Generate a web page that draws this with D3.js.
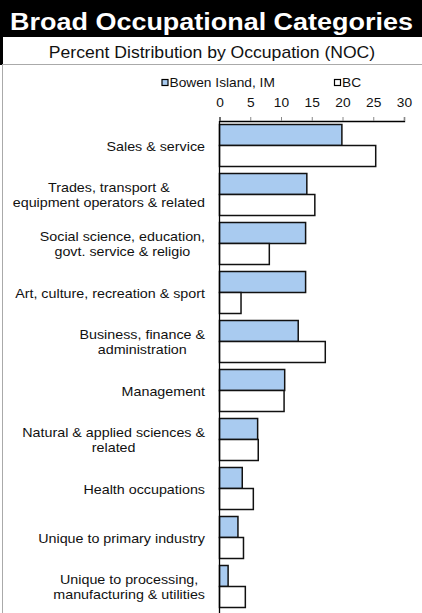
<!DOCTYPE html>
<html>
<head>
<meta charset="utf-8">
<script src="https://cdn.jsdelivr.net/npm/d3@7"></script>
<style>
  body { margin: 0; background: #fff; }
  svg { display: block; font-family: "Liberation Sans", Arial, sans-serif; }
  .ticks text { font-size: 12.5px; fill: #111; }
  .cat { font-size: 13px; fill: #111; }
</style>
</head>
<body>
<script>
var categories = [
  "Sales & service",
  "Trades, transport &\nequipment operators & related",
  "Social science, education,\ngovt. service & religio",
  "Art, culture, recreation & sport",
  "Business, finance &\nadministration",
  "Management",
  "Natural & applied sciences &\nrelated",
  "Health occupations",
  "Unique to primary industry",
  "Unique to processing,\nmanufacturing & utilities"
];
var bowen = [19.9, 14.2, 14.0, 14.0, 12.8, 10.6, 6.2, 3.7, 3.0, 1.4];
var bc = [25.4, 15.5, 8.1, 3.5, 17.2, 10.5, 6.3, 5.5, 3.9, 4.2];
var seriesNames = ["Bowen Island, IM", "BC"];
var seriesColors = ["#a9cbf0", "#ffffff"];
var xTicks = [0, 5, 10, 15, 20, 25, 30];

var width = 422, height = 613;
var sx = 1.1; // text in the original is a bit wider than normal
var svg = d3.select("body").append("svg")
  .attr("width", width)
  .attr("height", height);

// places a text stretched horizontally around its anchor point
function wideText(parent, x, y, anchor, str) {
  return parent.append("text")
    .attr("transform", "translate(" + x + "," + y + ") scale(" + sx + ",1)")
    .attr("text-anchor", anchor)
    .text(str);
}

// title band
svg.append("rect").attr("x", 0).attr("y", 0).attr("width", width).attr("height", 37).attr("fill", "#000");
wideText(svg, 211.5, 29.5, "middle", "Broad Occupational Categories")
  .attr("fill", "#fff").style("font-size", "24.5px").style("font-weight", "bold");

// frame bits
svg.append("rect").attr("x", 0).attr("y", 37).attr("width", 3).attr("height", 28).attr("fill", "#000");
svg.append("line").attr("x1", 2).attr("x2", width).attr("y1", 64.5).attr("y2", 64.5).attr("stroke", "#aaa");
svg.append("line").attr("x1", 2.5).attr("x2", 2.5).attr("y1", 64).attr("y2", height).attr("stroke", "#aaa");

wideText(svg, 212, 58.3, "middle", "Percent Distribution by Occupation (NOC)")
  .attr("fill", "#111").style("font-size", "16px");

// legend
var legendX = [162, 334.5];
seriesNames.forEach(function(n, i) {
  svg.append("rect").attr("x", legendX[i]).attr("y", 79.5).attr("width", 6).attr("height", 6)
    .attr("fill", seriesColors[i]).attr("stroke", "#000").attr("stroke-width", 1.2);
  wideText(svg, legendX[i] + 7.5, 86.5, "start", n)
    .style("font-size", "12.5px").attr("fill", "#111");
});

var margin = {left: 219.5, right: 18, top: 121};
var x = d3.scaleLinear().domain([0, 30]).range([margin.left, width - margin.right]);
var y = d3.scaleBand().domain(categories).range([margin.top, margin.top + 49 * categories.length]);

var xAxis = d3.axisTop(x).tickValues(xTicks).tickSize(4).tickPadding(10);
var ax = svg.append("g").attr("class", "ticks").attr("transform", "translate(0," + margin.top + ")").call(xAxis);
ax.select(".domain").attr("stroke", "#000").attr("stroke-width", 1.3);
ax.selectAll(".tick line").attr("stroke", "#888");
ax.selectAll(".tick text").attr("transform", "scale(" + sx + ",1)");

var barH = 21, pad = 3.5;
var data = [];
categories.forEach(function(c, i) {
  data.push({cat: c, s: 0, v: bowen[i]});
  data.push({cat: c, s: 1, v: bc[i]});
});

svg.append("g").selectAll("rect").data(data).enter().append("rect")
  .attr("x", x(0))
  .attr("y", function(d) { return y(d.cat) + pad + d.s * barH; })
  .attr("width", function(d) { return x(d.v) - x(0); })
  .attr("height", barH)
  .attr("fill", function(d) { return seriesColors[d.s]; })
  .attr("stroke", "#111")
  .attr("stroke-width", 1.5);

// vertical axis line
svg.append("line").attr("x1", x(0)).attr("x2", x(0))
  .attr("y1", margin.top).attr("y2", height).attr("stroke", "#000").attr("stroke-width", 1.3);

// category labels: block right-aligned, lines centred within block
var labelRight = 205;
categories.forEach(function(c) {
  var lines = c.split("\n");
  var g = svg.append("g");
  var cy = y(c) + y.bandwidth() / 2;
  var lh = 15;
  var texts = lines.map(function(l, i) {
    return wideText(g, 0, cy + (i - (lines.length - 1) / 2) * lh + 5, "middle", l).attr("class", "cat");
  });
  var maxW = d3.max(texts, function(t) { return t.node().getComputedTextLength(); }) * sx;
  var cx = labelRight - maxW / 2;
  texts.forEach(function(t, i) {
    t.attr("transform", "translate(" + cx + "," + (cy + (i - (lines.length - 1) / 2) * lh + 5) + ") scale(" + sx + ",1)");
  });
});
</script>
</body>
</html>
